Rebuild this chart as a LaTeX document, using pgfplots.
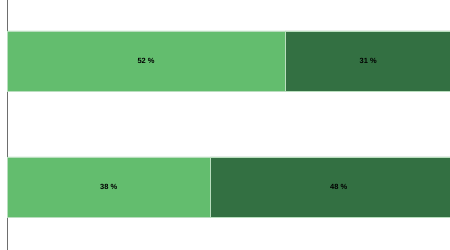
\documentclass[border=0pt]{standalone}
\usepackage{pgfplots}
\pgfplotsset{compat=1.18}
\usepackage{fontspec}
\setmainfont{Liberation Sans}
\definecolor{lg}{RGB}{99,189,110}
\definecolor{dg}{RGB}{51,112,66}
\definecolor{edge}{RGB}{185,222,190}
\begin{document}
\begin{tikzpicture}
\begin{axis}[name=ax, scale only axis, width=443bp, height=250bp,
  xbar stacked, bar width=60bp,
  xmin=0, xmax=82.8, ymin=-0.5, ymax=1.484,
  axis x line=none, axis y line=left,
  y axis line style={draw={rgb,255:red,110;green,110;blue,110}, line width=0.9bp, -},
  ytick=\empty, xtick=\empty, clip=true]
\addplot[fill=lg, draw=edge, line width=0.7bp] coordinates {(52,1) (38,0)};
\addplot[fill=dg, draw=edge, line width=0.7bp] coordinates {(31,1) (48,0)};
\coordinate (la) at (axis cs:26,1);
\coordinate (lb) at (axis cs:67.5,1);
\coordinate (lc) at (axis cs:19,0);
\coordinate (ld) at (axis cs:62,0);
\end{axis}
\tikzset{lab/.style={font=\fontsize{7.5}{9}\selectfont\bfseries, text=black, inner sep=0pt}}
\node[lab] at (la) {52 \%};
\node[lab] at (lb) {31 \%};
\node[lab] at (lc) {38 \%};
\node[lab] at (ld) {48 \%};
\pgfresetboundingbox
\path (ax.south west) ++(-7bp,0) rectangle (ax.north east);
\end{tikzpicture}
\end{document}
